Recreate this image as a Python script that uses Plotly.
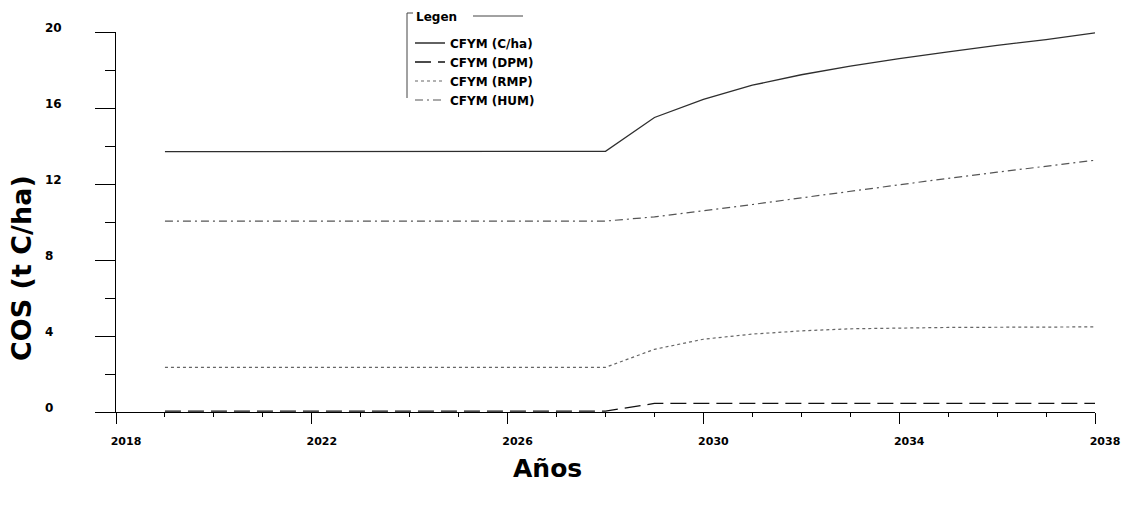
import plotly.graph_objects as go

years = [2019, 2020, 2021, 2022, 2023, 2024, 2025, 2026, 2027, 2028,
         2029, 2030, 2031, 2032, 2033, 2034, 2035, 2036, 2037, 2038]
cfym_cha = [13.7, 13.7, 13.7, 13.7, 13.72, 13.72, 13.72, 13.72, 13.72, 13.72,
            15.5, 16.45, 17.2, 17.75, 18.2, 18.6, 18.95, 19.3, 19.6, 19.95]
cfym_dpm = [0.05, 0.05, 0.05, 0.05, 0.05, 0.05, 0.05, 0.05, 0.05, 0.05,
            0.45, 0.45, 0.45, 0.45, 0.45, 0.45, 0.45, 0.45, 0.45, 0.45]
cfym_rmp = [2.35, 2.35, 2.35, 2.35, 2.35, 2.35, 2.35, 2.35, 2.35, 2.35,
            3.3, 3.83, 4.1, 4.27, 4.38, 4.43, 4.45, 4.46, 4.47, 4.48]
cfym_hum = [10.05, 10.05, 10.05, 10.05, 10.05, 10.05, 10.05, 10.05, 10.05, 10.05,
            10.27, 10.58, 10.92, 11.27, 11.62, 11.97, 12.3, 12.62, 12.95, 13.25]

series_names = ["CFYM (C/ha)", "CFYM (DPM)", "CFYM (RMP)", "CFYM (HUM)"]
y_tick_vals = [0, 4, 8, 12, 16, 20]
y_tick_labels = ["0", "4", "8", "12", "16", "20"]
x_tick_vals = [2018, 2022, 2026, 2030, 2034, 2038]
x_tick_labels = ["2018", "2022", "2026", "2030", "2034", "2038"]

FONT = "DejaVu Sans"

fig = go.Figure()
styles = [
    dict(color="#2e2e2e", width=1.3, dash="solid"),
    dict(color="#111111", width=1.3, dash="16px,7px"),
    dict(color="#666666", width=1.2, dash="3px,3px"),
    dict(color="#555555", width=1.2, dash="8px,4px,2px,4px"),
]
for name, vals, st in zip(series_names, [cfym_cha, cfym_dpm, cfym_rmp, cfym_hum], styles):
    fig.add_trace(go.Scatter(x=years, y=vals, mode="lines", name=name, line=st))

# pad single-digit y labels so they look left-aligned
maxlen = max(len(t) for t in y_tick_labels)
y_text = [t + "\u00a0\u00a0" * (maxlen - len(t)) for t in y_tick_labels]

L, R, T, B = 116, 38, 32, 93
W, H = 1133, 505
pw, ph = W - L - R, H - T - B

def px(x):
    return (x - L) / pw

def py(y):
    return (H - B - y) / ph

fig.update_layout(
    width=W, height=H,
    margin=dict(l=L, r=R, t=T, b=B, autoexpand=False),
    paper_bgcolor="white", plot_bgcolor="white",
    font=dict(family=FONT, color="black"),
    showlegend=True,
    legend=dict(
        x=px(410), y=py(28.5), xanchor="left", yanchor="top",
        bgcolor="rgba(0,0,0,0)", borderwidth=0,
        font=dict(family=FONT, size=12, weight="bold"),
        tracegroupgap=0,
    ),
    xaxis=dict(
        range=[2018, 2038], showgrid=False, zeroline=False,
        showline=True, linecolor="black", linewidth=1,
        tickmode="array", tickvals=x_tick_vals, ticktext=x_tick_labels,
        ticks="outside", ticklen=11, tickcolor="black", tickwidth=1,
        minor=dict(dtick=1, ticks="outside", ticklen=4, tickcolor="black", tickwidth=1),
        tickfont=dict(family=FONT, size=11, weight="bold"),
        ticklabelshift=10, ticklabelstandoff=8,
    ),
    yaxis=dict(
        range=[0, 20], showgrid=False, zeroline=False,
        showline=True, linecolor="black", linewidth=1,
        tickmode="array", tickvals=y_tick_vals, ticktext=y_text,
        ticks="outside", ticklen=20, tickcolor="black", tickwidth=1,
        minor=dict(dtick=2, ticks="outside", ticklen=10, tickcolor="black", tickwidth=1),
        tickfont=dict(family=FONT, size=12, weight="bold"),
        ticklabelshift=-4, ticklabelstandoff=31,
    ),
)

fig.add_annotation(text="COS (t C/ha)", xref="paper", yref="paper",
                   x=px(21), y=py(268), xanchor="center", yanchor="middle",
                   textangle=-90, showarrow=False,
                   font=dict(family=FONT, size=27, weight="bold"))
fig.add_annotation(text="Años", xref="paper", yref="paper",
                   x=px(547), y=py(468), xanchor="center", yanchor="middle",
                   showarrow=False,
                   font=dict(family=FONT, size=25, weight="bold"))
fig.add_annotation(text="Legen", xref="paper", yref="paper",
                   x=px(414), y=py(17), xanchor="left", yanchor="middle",
                   showarrow=False,
                   font=dict(family=FONT, size=12, weight="bold"))

# legend bracket decoration
lc = dict(color="#444444", width=1)
fig.add_shape(type="line", xref="paper", yref="paper",
              x0=px(407), x1=px(407), y0=py(13), y1=py(98), line=lc)
fig.add_shape(type="line", xref="paper", yref="paper",
              x0=px(407), x1=px(413), y0=py(13), y1=py(13), line=lc)
fig.add_shape(type="line", xref="paper", yref="paper",
              x0=px(473), x1=px(523), y0=py(16), y1=py(16), line=lc)

fig.write_html("out.html")
